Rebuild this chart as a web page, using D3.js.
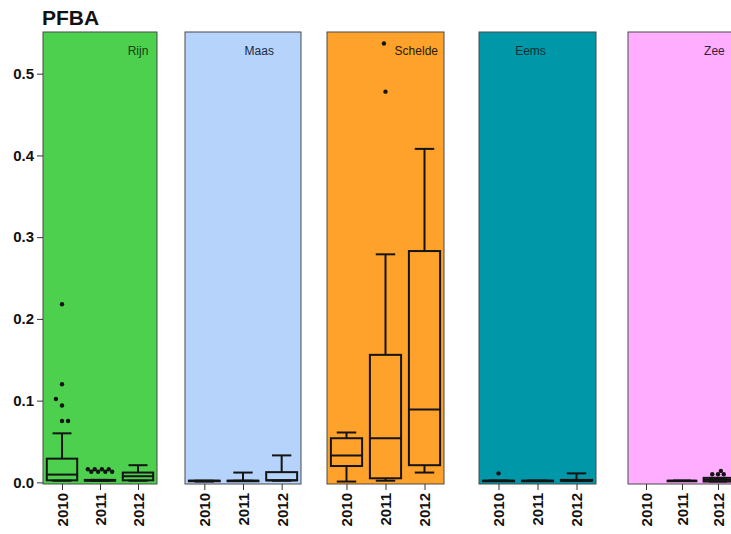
<!DOCTYPE html>
<html>
<head>
<meta charset="utf-8">
<script src="https://cdn.jsdelivr.net/npm/d3@7"></script>
<style>
  body { margin: 0; background: #fff; }
  text { font-family: "Liberation Sans", Arial, sans-serif; }
</style>
</head>
<body>
<div class="canvas"></div>
<script>
// chart data
var title = "PFBA";
var regions = ["Rijn", "Maas", "Schelde", "Eems", "Zee"];
var years = ["2010", "2011", "2012"];
var yTicks = [0, 0.1, 0.2, 0.3, 0.4, 0.5];
var panelColors = ["#4dd04d", "#b5d3fb", "#ffa22b", "#0097a8", "#ffadff"];
var labelColors = ["#173d17", "#1c2a44", "#2a1a05", "#0c2f36", "#3a1a3a"];

// box stats per year: [low whisker, q1, median, q3, high whisker]
var rijnStats = [[0.002, 0.0025, 0.0095, 0.029, 0.060], [0.002, 0.002, 0.0025, 0.003, 0.003], [0.002, 0.0025, 0.0075, 0.012, 0.021]];
var maasStats = [[0.001, 0.002, 0.002, 0.002, 0.002], [0.002, 0.002, 0.002, 0.002, 0.012], [0.002, 0.0025, 0.0025, 0.0125, 0.033]];
var scheldeStats = [[0.001, 0.020, 0.033, 0.054, 0.061], [0.002, 0.005, 0.054, 0.156, 0.279], [0.012, 0.021, 0.089, 0.283, 0.408]];
var eemsStats = [[0.002, 0.002, 0.002, 0.002, 0.002], [0.002, 0.002, 0.002, 0.002, 0.002], [0.002, 0.002, 0.002, 0.003, 0.011]];
var zeeStats = [null, [0.002, 0.002, 0.002, 0.002, 0.002], [0.001, 0.001, 0.003, 0.0055, 0.0055]];

// outliers: [year index, value, jitter in category units]
var rijnOut = [[0, 0.218, 0], [0, 0.120, 0], [0, 0.102, -0.16], [0, 0.094, 0], [0, 0.075, 0], [0, 0.075, 0.16],
  [1, 0.016, -0.32], [1, 0.013, -0.23], [1, 0.016, -0.14], [1, 0.013, -0.05], [1, 0.016, 0.05], [1, 0.013, 0.14], [1, 0.016, 0.23], [1, 0.013, 0.32]];
var maasOut = [];
var scheldeOut = [[1, 0.478, 0], [1, 0.537, -0.04]];
var eemsOut = [[0, 0.011, 0]];
var zeeOut = [[2, 0.010, -0.16], [2, 0.010, 0], [2, 0.014, 0.08], [2, 0.010, 0.16]];

var allStats = [rijnStats, maasStats, scheldeStats, eemsStats, zeeStats];
var allOut = [rijnOut, maasOut, scheldeOut, eemsOut, zeeOut];
var labelPos = [3.0, 2.42, 2.79, 1.82, 2.9];

// layout
var width = 731, height = 534;
var panelLeft = [43, 185, 327, 479, 628];
var panelWidth = [114, 116, 117, 117, 108];
var plotTop = 32, plotBottom = 484;

var svg = d3.select(".canvas").append("svg")
  .attr("width", width)
  .attr("height", height);

var y = d3.scaleLinear().domain([-0.002, 0.551]).range([plotBottom, plotTop]);

svg.append("text")
  .attr("x", 42).attr("y", 25)
  .attr("font-size", 21).attr("font-weight", "bold")
  .attr("fill", "#111")
  .text(title);

regions.forEach(function(name, i) {
  var x0 = panelLeft[i];
  var panelW = panelWidth[i];
  var x = d3.scaleLinear().domain([0.5, 3.5]).range([x0, x0 + panelW]);
  var g = svg.append("g");

  g.append("rect")
    .attr("x", x0).attr("y", plotTop)
    .attr("width", panelW).attr("height", plotBottom - plotTop)
    .attr("fill", panelColors[i])
    .attr("stroke", "#4a4a4a").attr("stroke-width", 1);

  g.append("text")
    .attr("x", x(labelPos[i])).attr("y", 55)
    .attr("text-anchor", "middle")
    .attr("font-size", 12)
    .attr("fill", labelColors[i])
    .text(name);

  // x axis
  var xAxis = g.append("g")
    .attr("transform", "translate(0," + plotBottom + ")")
    .call(d3.axisBottom(x).tickValues([1, 2, 3]).tickSize(6).tickFormat(function(d) { return years[d - 1]; }));
  xAxis.select(".domain").remove();
  xAxis.selectAll(".tick line").attr("stroke", "#333");
  xAxis.selectAll("text")
    .attr("transform", "rotate(-90)")
    .attr("text-anchor", "end")
    .attr("x", -9).attr("y", 0).attr("dy", "0.36em")
    .attr("font-size", 15).attr("font-weight", "bold")
    .attr("font-family", "Liberation Sans, Arial, sans-serif")
    .attr("fill", "#111");

  // boxes
  var stroke = "#141414";
  allStats[i].forEach(function(s, j) {
    if (!s) return;
    var cx = x(j + 1);
    var bw = x(1.4) - x(1);
    var cw = x(1.25) - x(1);
    var bg = g.append("g").attr("stroke", stroke).attr("stroke-width", 2).attr("fill", "none");
    // whiskers
    bg.append("line").attr("x1", cx).attr("x2", cx).attr("y1", y(s[3])).attr("y2", y(s[4]));
    bg.append("line").attr("x1", cx).attr("x2", cx).attr("y1", y(s[1])).attr("y2", y(s[0]));
    bg.append("line").attr("x1", cx - cw).attr("x2", cx + cw).attr("y1", y(s[4])).attr("y2", y(s[4]));
    bg.append("line").attr("x1", cx - cw).attr("x2", cx + cw).attr("y1", y(s[0])).attr("y2", y(s[0]));
    bg.append("rect")
      .attr("x", cx - bw).attr("width", bw * 2)
      .attr("y", y(s[3])).attr("height", Math.max(0.5, y(s[1]) - y(s[3])));
    bg.append("line").attr("x1", cx - bw).attr("x2", cx + bw).attr("y1", y(s[2])).attr("y2", y(s[2]));
  });

  g.selectAll("circle.out")
    .data(allOut[i])
    .enter().append("circle")
    .attr("class", "out")
    .attr("cx", function(d) { return x(d[0] + 1 + d[2]); })
    .attr("cy", function(d) { return y(d[1]); })
    .attr("r", 2.2)
    .attr("fill", stroke);
});

// y axis
var yAxis = svg.append("g")
  .attr("transform", "translate(" + panelLeft[0] + ",0)")
  .call(d3.axisLeft(y).tickValues(yTicks).tickSize(6).tickFormat(d3.format(".1f")));
yAxis.select(".domain").remove();
yAxis.selectAll(".tick line").attr("stroke", "#333");
yAxis.selectAll("text")
  .attr("x", -9)
  .attr("font-size", 15).attr("font-weight", "bold")
  .attr("font-family", "Liberation Sans, Arial, sans-serif")
  .attr("fill", "#111");
</script>
</body>
</html>
